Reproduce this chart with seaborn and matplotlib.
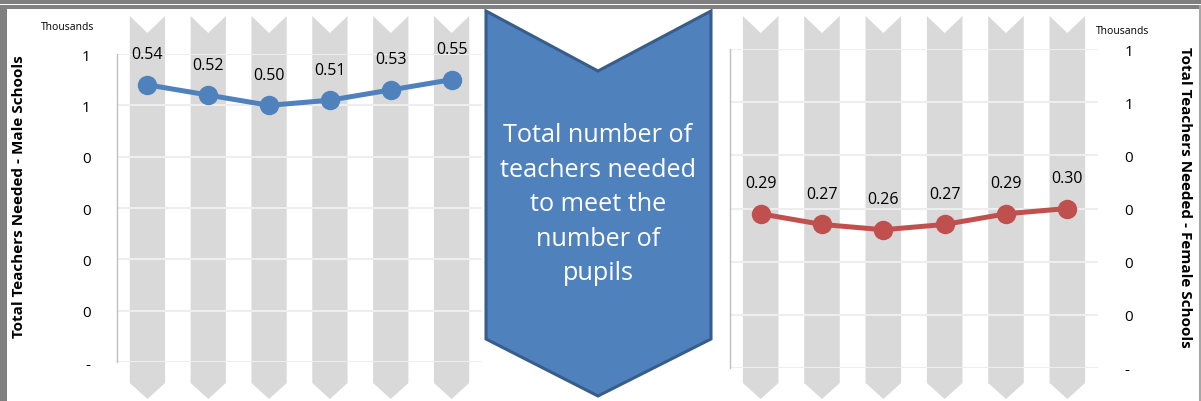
import numpy as np
import matplotlib
matplotlib.use('Agg')
import matplotlib.pyplot as plt
import matplotlib.transforms as mtransforms
from matplotlib.patches import Polygon, Rectangle
import seaborn as sns

# --- data (values in thousands) ---
periods = [0, 1, 2, 3, 4, 5]
male_needed = [0.54, 0.52, 0.50, 0.51, 0.53, 0.55]
female_needed = [0.29, 0.27, 0.26, 0.27, 0.29, 0.30]
y_ticks = [0, 0.1, 0.2, 0.3, 0.4, 0.5, 0.6]
y_tick_labels = ['-', '0', '0', '0', '0', '1', '1']
center_text = 'Total number of\nteachers needed\nto meet the\nnumber of\npupils'

sns.set_style('white')
plt.rcParams['font.family'] = ['Open Sans', 'DejaVu Sans']
plt.rcParams['text.color'] = 'black'

W, H = 1201, 402
fig = plt.figure(figsize=(W / 100, H / 100), dpi=100)


def fx(px):
    return px / W


def fy(py):
    return 1 - py / H


def panel(x0, x1, y0, y1, values, color, side):
    ax = fig.add_axes([fx(x0), fy(y1), fx(x1 - x0), (y1 - y0) / H])
    ax.set_facecolor('none')
    ax.set_xlim(-0.5, 5.5)
    ax.set_ylim(0, 0.6)

    # chevron-shaped background columns
    trans = mtransforms.blended_transform_factory(ax.transData, fig.transFigure)
    hw = 0.29
    for c in periods:
        pts = [(c - hw, fy(17)), (c, fy(34)), (c + hw, fy(17)),
               (c + hw, fy(384)), (c, fy(400)), (c - hw, fy(384))]
        ax.add_patch(Polygon(pts, closed=True, transform=trans, facecolor='#D9D9D9',
                             edgecolor='none', clip_on=False, zorder=0.1))

    ax.set_yticks(y_ticks)
    ax.set_yticklabels(y_tick_labels)
    ax.set_xticks([])
    ax.grid(axis='y', color='#EEEEEE', linewidth=1.5)
    ax.set_axisbelow(True)
    for s in ['top', 'right', 'bottom']:
        ax.spines[s].set_visible(False)
    ax.spines['left'].set_color('#BFBFBF')
    ax.spines['left'].set_linewidth(1)

    if side == 'right':
        ax.yaxis.tick_right()
    ax.tick_params(axis='y', length=0, pad=19, labelsize=11, labelcolor='black')

    sns.lineplot(x=periods, y=values, ax=ax, color=color, marker='o', markersize=14,
                 linewidth=3.6, markeredgewidth=0, zorder=3)
    for i, v in zip(periods, values):
        ax.annotate(f'{v:.2f}', (i, v), xytext=(0, 22), textcoords='offset points',
                    ha='center', va='center', fontsize=11.5, color='black')
    return ax


panel(117, 482, 55, 363, male_needed, '#4F81BD', 'left')
panel(730, 1098, 50, 369, female_needed, '#C0504D', 'right')

fig.text(fx(68), fy(28), 'Thousands', ha='center', va='center', fontsize=7.5)
fig.text(fx(1123), fy(32), 'Thousands', ha='center', va='center', fontsize=7.5)
fig.text(fx(19), fy(197), 'Total Teachers Needed - Male Schools', rotation=90,
         ha='center', va='center', fontsize=11, fontweight='bold')
fig.text(fx(1185), fy(197), 'Total Teachers Needed - Female Schools', rotation=270,
         ha='center', va='center', fontsize=11, fontweight='bold')

# big center chevron
chev = [(fx(486), fy(12)), (fx(598), fy(72)), (fx(711), fy(12)),
        (fx(711), fy(340)), (fx(598), fy(397)), (fx(486), fy(340))]
fig.patches.append(Polygon(chev, closed=True, transform=fig.transFigure,
                           facecolor='#4F81BD', edgecolor='#385D8A', linewidth=2.2, zorder=5))
fig.text(fx(598), fy(205), center_text, ha='center', va='center', color='white',
         fontsize=18.2, linespacing=1.5, zorder=6)

# frame lines
fig.patches.append(Rectangle((0, fy(5)), 1, 5 / H, transform=fig.transFigure,
                             facecolor='#7F7F7F', edgecolor='none', zorder=7))
fig.patches.append(Rectangle((0, fy(10)), 1, 4 / H, transform=fig.transFigure,
                             facecolor='#808080', edgecolor='none', zorder=7))
fig.patches.append(Rectangle((0, 0), fx(7), fy(6), transform=fig.transFigure,
                             facecolor='#808080', edgecolor='none', zorder=7))
fig.patches.append(Rectangle((fx(1199), 0), fx(2), fy(6), transform=fig.transFigure,
                             facecolor='#A6A6A6', edgecolor='none', zorder=7))

fig.savefig('out.png', dpi=100)
